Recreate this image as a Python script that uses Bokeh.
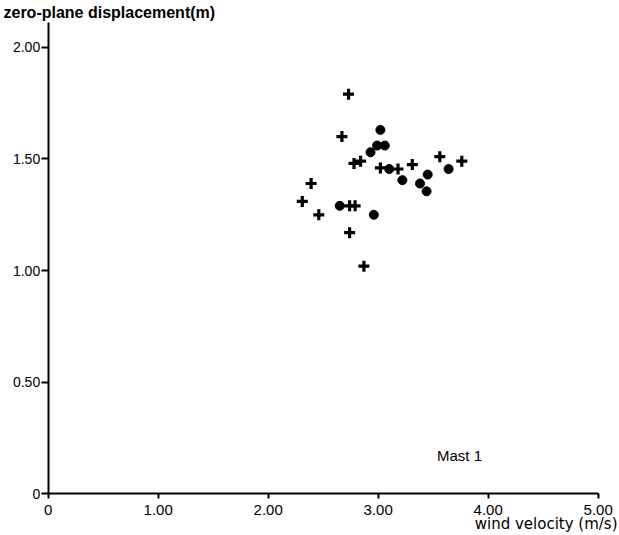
from bokeh.plotting import figure
from bokeh.models import FixedTicker, Range1d, Label, ColumnDataSource
from bokeh.embed import file_html
from bokeh.resources import INLINE

# Data
plus_x = [2.73, 2.67, 2.78, 2.84, 3.02, 3.18, 3.31, 3.56, 3.76, 2.39, 2.31, 2.46, 2.74, 2.79, 2.74, 2.87]
plus_y = [1.79, 1.60, 1.48, 1.49, 1.46, 1.455, 1.475, 1.51, 1.49, 1.39, 1.31, 1.25, 1.29, 1.29, 1.17, 1.02]
circ_x = [3.02, 2.99, 3.06, 2.93, 3.10, 3.22, 3.38, 3.45, 3.44, 3.64, 2.65, 2.96]
circ_y = [1.63, 1.56, 1.56, 1.53, 1.455, 1.405, 1.39, 1.43, 1.355, 1.455, 1.29, 1.25]

x_ticks = [0, 1, 2, 3, 4, 5]
x_tick_labels = ["0", "1.00", "2.00", "3.00", "4.00", "5.00"]
y_ticks = [0, 0.5, 1.0, 1.5, 2.0]
y_tick_labels = ["0", "0.50", "1.00", "1.50", "2.00"]

FONT = "Liberation Sans"

p = figure(width=619, height=535, output_backend="svg", toolbar_location=None,
           x_range=Range1d(-0.4336, 5.1936), y_range=Range1d(-0.1863, 2.2096),
           min_border=0)
p.outline_line_color = None
p.grid.visible = False
p.background_fill_color = "white"
p.border_fill_color = "white"

p.xaxis[0].fixed_location = 0
p.xaxis[0].bounds = (0, 5)
p.yaxis[0].fixed_location = 0
p.yaxis[0].bounds = (0, 2.11)

for ax, ticks, labels in ((p.xaxis[0], x_ticks, x_tick_labels), (p.yaxis[0], y_ticks, y_tick_labels)):
    ax.ticker = FixedTicker(ticks=ticks)
    ax.major_label_overrides = {float(t): l for t, l in zip(ticks, labels)}
    ax.minor_tick_line_color = None
    ax.major_tick_in = 0
    ax.axis_line_width = 2
    ax.major_tick_line_width = 2
    ax.axis_line_color = "black"
    ax.major_tick_line_color = "black"
    ax.major_label_text_font = FONT
    ax.major_label_text_color = "black"
p.xaxis[0].major_tick_out = 5
p.yaxis[0].major_tick_out = 7
p.xaxis[0].major_label_text_font_size = "15px"
p.yaxis[0].major_label_text_font_size = "14px"
p.xaxis[0].major_label_standoff = 6
p.yaxis[0].major_label_standoff = 1

src_p = ColumnDataSource(dict(x=plus_x, y=plus_y))
src_c = ColumnDataSource(dict(x=circ_x, y=circ_y))
p.scatter("x", "y", source=src_p, marker="cross", size=11, line_width=3.2, line_color="black")
p.scatter("x", "y", source=src_c, marker="circle", size=9, fill_color="black", line_color="black")

p.add_layout(Label(x=-0.4064, y=2.196, text="zero-plane displacement(m)", text_font=FONT,
                   text_font_size="16px", text_font_style="bold", text_baseline="top",
                   text_align="left", text_color="black"))
p.add_layout(Label(x=5.1755, y=-0.1773, text="wind velocity (m/s)", text_font="DejaVu Sans",
                   text_font_size="15px", text_baseline="bottom", text_align="right",
                   text_color="black"))
p.add_layout(Label(x=3.739, y=0.172, text="Mast 1", text_font=FONT,
                   text_font_size="15px", text_baseline="middle", text_align="center",
                   text_color="black"))

open("out.html", "w").write(file_html(p, INLINE))
